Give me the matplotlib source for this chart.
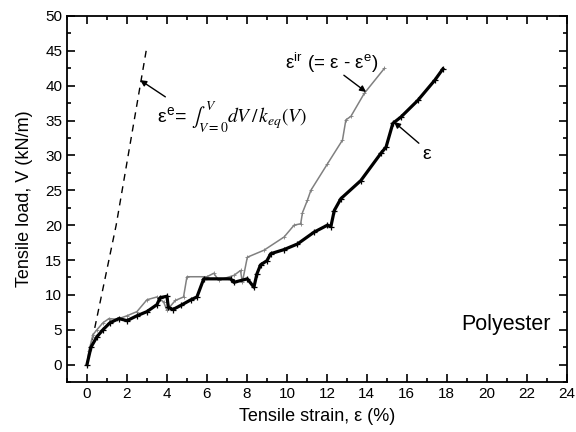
import matplotlib
matplotlib.use('Agg')
import matplotlib.pyplot as plt
from matplotlib.ticker import MultipleLocator

plt.rcParams['font.family'] = ['Liberation Sans', 'DejaVu Sans']
plt.rcParams['mathtext.fontset'] = 'stix'

# 전체 변형률 (epsilon), 검은 선
eps_x = [0, 0.2, 0.5, 0.8, 1.15, 1.6, 2.0, 2.5, 3.0, 3.5, 3.66, 4.0, 4.07, 4.3, 4.7, 5.2, 5.5,
         5.84, 7.18, 7.35, 8.02, 8.35, 8.5, 8.68, 9.0, 9.19, 9.86, 10.53, 11.36, 12.03, 12.2,
         12.37, 12.7, 13.7, 14.7, 14.96, 15.3, 15.7, 16.55, 17.4, 17.8]
eps_y = [0, 2.5, 4.0, 5.0, 6.0, 6.6, 6.3, 7.0, 7.6, 8.6, 9.6, 9.8, 8.2, 7.9, 8.5, 9.3, 9.7,
         12.3, 12.3, 11.8, 12.3, 11.1, 13.0, 14.3, 14.9, 15.9, 16.5, 17.3, 19.0, 20.0, 19.8,
         22.1, 23.8, 26.4, 30.3, 31.2, 34.6, 35.5, 37.9, 40.8, 42.4]

# 비가역 변형률 (epsilon_ir), 회색 선
ir_x = [0, 0.1, 0.3, 0.5, 0.8, 1.1, 1.5, 2.0, 2.5, 3.0, 3.5, 3.83, 4.0, 4.42, 4.83, 5.0,
        6.0, 6.34, 6.59, 7.35, 7.68, 7.77, 8.02, 8.85, 9.86, 10.36, 10.69, 10.78, 11.03, 11.2,
        12.03, 12.78, 12.95, 13.2, 13.87, 14.88]
ir_y = [0, 2.0, 4.3, 5.0, 6.0, 6.6, 6.5, 7.0, 7.6, 9.3, 9.7, 9.0, 7.8, 9.2, 9.7, 12.6,
        12.6, 13.1, 12.1, 12.8, 13.5, 11.8, 15.4, 16.4, 18.3, 20.0, 20.2, 21.8, 23.6, 25.0,
        28.8, 32.2, 35.1, 35.6, 38.9, 42.5]

# 탄성 변형률 (epsilon_e), 점선
el_x = [0, 0.37, 1.46, 2.96]
el_y = [0, 5.0, 20.0, 45.0]

fig = plt.figure(figsize=(5.76, 4.32), dpi=100)
ax = fig.add_axes([0.1163, 0.1157, 0.8677, 0.8473])

ax.plot(el_x, el_y, color='black', lw=1.0, ls=(0, (5, 4)))
ax.plot(ir_x, ir_y, color='#808080', lw=1.1, marker='+', ms=3, mew=0.6)
ax.plot(eps_x, eps_y, color='black', lw=2.3, marker='+', ms=5, mew=0.9)

ax.set_xlim(-1, 24)
ax.set_ylim(-2.5, 50)
ax.xaxis.set_major_locator(MultipleLocator(2))
ax.xaxis.set_minor_locator(MultipleLocator(1))
ax.yaxis.set_major_locator(MultipleLocator(5))
ax.yaxis.set_minor_locator(MultipleLocator(2.5))
ax.tick_params(which='both', direction='in', top=True, right=True, labelsize=11, width=1.2)
ax.tick_params(which='major', length=6)
ax.tick_params(which='minor', length=3)
for s in ax.spines.values():
    s.set_linewidth(1.3)

ax.set_xlabel('Tensile strain, ε (%)', fontsize=13, labelpad=5)
ax.set_ylabel('Tensile load, V (kN/m)', fontsize=13, labelpad=9)

arrow = dict(arrowstyle='-|>', color='black', lw=1.0, mutation_scale=9, shrinkA=0, shrinkB=0)
ax.text(3.5, 35.5, r'ε$^{\mathregular{e}}$= $\int_{V=0}^{V}dV\,/\,k_{eq}(V)$',
        fontsize=14, ha='left', va='center')
ax.annotate('', xy=(2.66, 40.8), xytext=(3.92, 38.4), arrowprops=arrow)
ax.text(9.9, 43.3, r'ε$^{\mathregular{ir}}$ (= ε - ε$^{\mathregular{e}}$)',
        fontsize=13.5, ha='left', va='center')
ax.annotate('', xy=(13.96, 39.1), xytext=(12.85, 41.5), arrowprops=arrow)
ax.text(16.8, 30.2, 'ε', fontsize=14, ha='left', va='center')
ax.annotate('', xy=(15.36, 34.8), xytext=(16.6, 31.75), arrowprops=arrow)
ax.text(18.7, 5.7, 'Polyester', fontsize=15.5, ha='left', va='center')

fig.savefig('out.png', dpi=100)
